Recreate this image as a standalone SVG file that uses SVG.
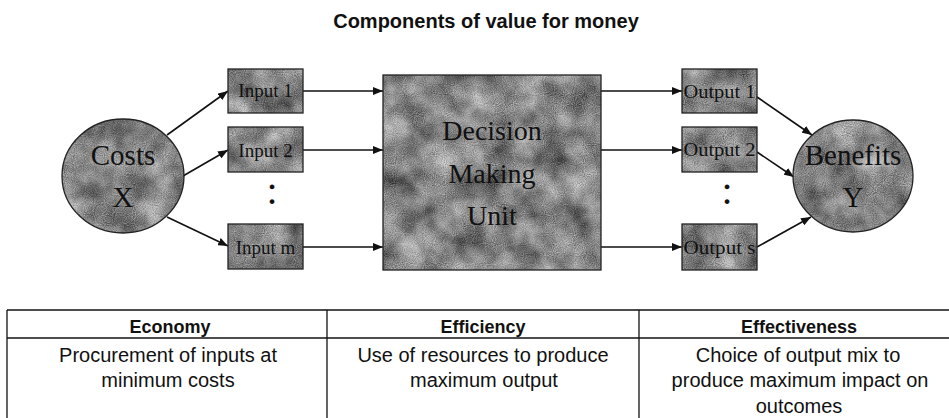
<svg xmlns="http://www.w3.org/2000/svg" width="949" height="418" viewBox="0 0 949 418">
<style>
.title{font-family:"Liberation Sans",Arial,sans-serif;font-weight:bold;font-size:20px;fill:#111;text-anchor:middle}
.nt{font-family:"Liberation Serif","Times New Roman",serif;fill:#111;text-anchor:middle}
.big{font-size:29px}
.small{font-size:19px}
.fillshape{fill:#808080;filter:url(#tex)}
.outline{fill:none;stroke:#222;stroke-width:1.3}
.conn{stroke:#111;stroke-width:1.6;fill:none;marker-end:url(#ah)}
.th{font-family:"Liberation Sans",Arial,sans-serif;font-weight:bold;font-size:18px;fill:#111;text-anchor:middle}
.td{font-family:"Liberation Sans",Arial,sans-serif;font-size:20px;fill:#111;text-anchor:middle}
.grid{stroke:#111;stroke-width:1.3;fill:none}
</style>
<defs>
<filter id="tex" x="0" y="0" width="100%" height="100%" color-interpolation-filters="sRGB">
<feTurbulence type="fractalNoise" baseFrequency="0.035" numOctaves="3" seed="7" result="n1"/>
<feTurbulence type="fractalNoise" baseFrequency="0.9" numOctaves="1" seed="2" result="n2"/>
<feComposite in="n1" in2="n2" operator="arithmetic" k1="0" k2="0.6" k3="0.4" k4="0" result="n"/>
<feColorMatrix in="n" type="matrix" values="1.1 0 0 0 -0.03  1.1 0 0 0 -0.03  1.1 0 0 0 -0.03  0 0 0 0 1" result="g"/>
<feComposite in="g" in2="SourceGraphic" operator="in"/>
</filter>
<marker id="ah" markerUnits="userSpaceOnUse" markerWidth="10" markerHeight="8" refX="10" refY="4" orient="auto">
<path d="M0,0 L10,4 L0,8 z" fill="#111"/>
</marker>
</defs>
<rect width="949" height="418" fill="#fff"/>
<text class="title" x="486" y="28">Components of value for money</text>

<g id="connectors">
<line class="conn" x1="167" y1="135" x2="228" y2="91"/>
<line class="conn" x1="183" y1="176" x2="228" y2="150"/>
<line class="conn" x1="167" y1="217" x2="228" y2="246"/>
<line class="conn" x1="303" y1="91" x2="383" y2="91"/>
<line class="conn" x1="303" y1="150" x2="383" y2="150"/>
<line class="conn" x1="303" y1="247" x2="383" y2="247"/>
<line class="conn" x1="601" y1="91" x2="682" y2="91"/>
<line class="conn" x1="601" y1="150" x2="682" y2="150"/>
<line class="conn" x1="601" y1="247" x2="682" y2="247"/>
<line class="conn" x1="757" y1="97" x2="812" y2="135"/>
<line class="conn" x1="757" y1="152" x2="794" y2="177"/>
<line class="conn" x1="757" y1="247" x2="811" y2="217"/>
</g>

<g id="costs">
<ellipse class="fillshape" cx="123" cy="176" rx="61" ry="57"/>
<ellipse class="outline" cx="123" cy="176" rx="61" ry="57"/>
<text class="nt big" x="123" y="165">Costs</text>
<text class="nt big" x="123" y="207">X</text>
</g>

<g id="input1">
<rect class="fillshape" x="228" y="69" width="75" height="44"/>
<rect class="outline" x="228" y="69" width="75" height="44"/>
<text class="nt small" x="265.5" y="97">Input 1</text>
</g>
<g id="input2">
<rect class="fillshape" x="228" y="127" width="75" height="45"/>
<rect class="outline" x="228" y="127" width="75" height="45"/>
<text class="nt small" x="265.5" y="157">Input 2</text>
</g>
<g id="inputdots">
<text class="nt" x="272" y="204" font-size="40">:</text>
</g>
<g id="inputm">
<rect class="fillshape" x="228" y="224" width="75" height="45"/>
<rect class="outline" x="228" y="224" width="75" height="45"/>
<text class="nt small" x="265.5" y="254">Input m</text>
</g>

<g id="dmu">
<rect class="fillshape" x="383" y="75" width="218" height="195"/>
<rect class="outline" x="383" y="75" width="218" height="195"/>
<text class="nt" font-size="28" x="492" y="140">Decision</text>
<text class="nt" font-size="28" x="492" y="183">Making</text>
<text class="nt" font-size="28" x="492" y="225">Unit</text>
</g>

<g id="output1">
<rect class="fillshape" x="682" y="69" width="75" height="44"/>
<rect class="outline" x="682" y="69" width="75" height="44"/>
<text class="nt small" x="719.5" y="98" textLength="72" lengthAdjust="spacingAndGlyphs">Output 1</text>
</g>
<g id="output2">
<rect class="fillshape" x="682" y="127" width="75" height="45"/>
<rect class="outline" x="682" y="127" width="75" height="45"/>
<text class="nt small" x="719.5" y="156" textLength="72" lengthAdjust="spacingAndGlyphs">Output 2</text>
</g>
<g id="outputdots">
<text class="nt" x="727" y="204" font-size="40">:</text>
</g>
<g id="outputs">
<rect class="fillshape" x="682" y="224" width="75" height="46"/>
<rect class="outline" x="682" y="224" width="75" height="46"/>
<text class="nt small" x="719.5" y="254" textLength="72" lengthAdjust="spacingAndGlyphs">Output s</text>
</g>

<g id="benefits">
<ellipse class="fillshape" cx="853" cy="176" rx="60" ry="56"/>
<ellipse class="outline" cx="853" cy="176" rx="60" ry="56"/>
<text class="nt big" x="853" y="165">Benefits</text>
<text class="nt big" x="853" y="207">Y</text>
</g>

<g id="table">
<line class="grid" x1="7" y1="310" x2="949" y2="310"/>
<line class="grid" x1="7" y1="338" x2="949" y2="338"/>
<line class="grid" x1="7" y1="310" x2="7" y2="418"/>
<line class="grid" x1="327" y1="310" x2="327" y2="418"/>
<line class="grid" x1="639" y1="310" x2="639" y2="418"/>
<text class="th" x="170" y="333">Economy</text>
<text class="th" x="483" y="333">Efficiency</text>
<text class="th" x="799" y="333">Effectiveness</text>
<text class="td" x="168" y="362">Procurement of inputs at</text>
<text class="td" x="168" y="387">minimum costs</text>
<text class="td" x="483" y="362">Use of resources to produce</text>
<text class="td" x="484" y="387">maximum output</text>
<text class="td" x="798" y="362">Choice of output mix to</text>
<text class="td" x="800" y="387">produce maximum impact on</text>
<text class="td" x="799" y="413">outcomes</text>
</g>
</svg>
